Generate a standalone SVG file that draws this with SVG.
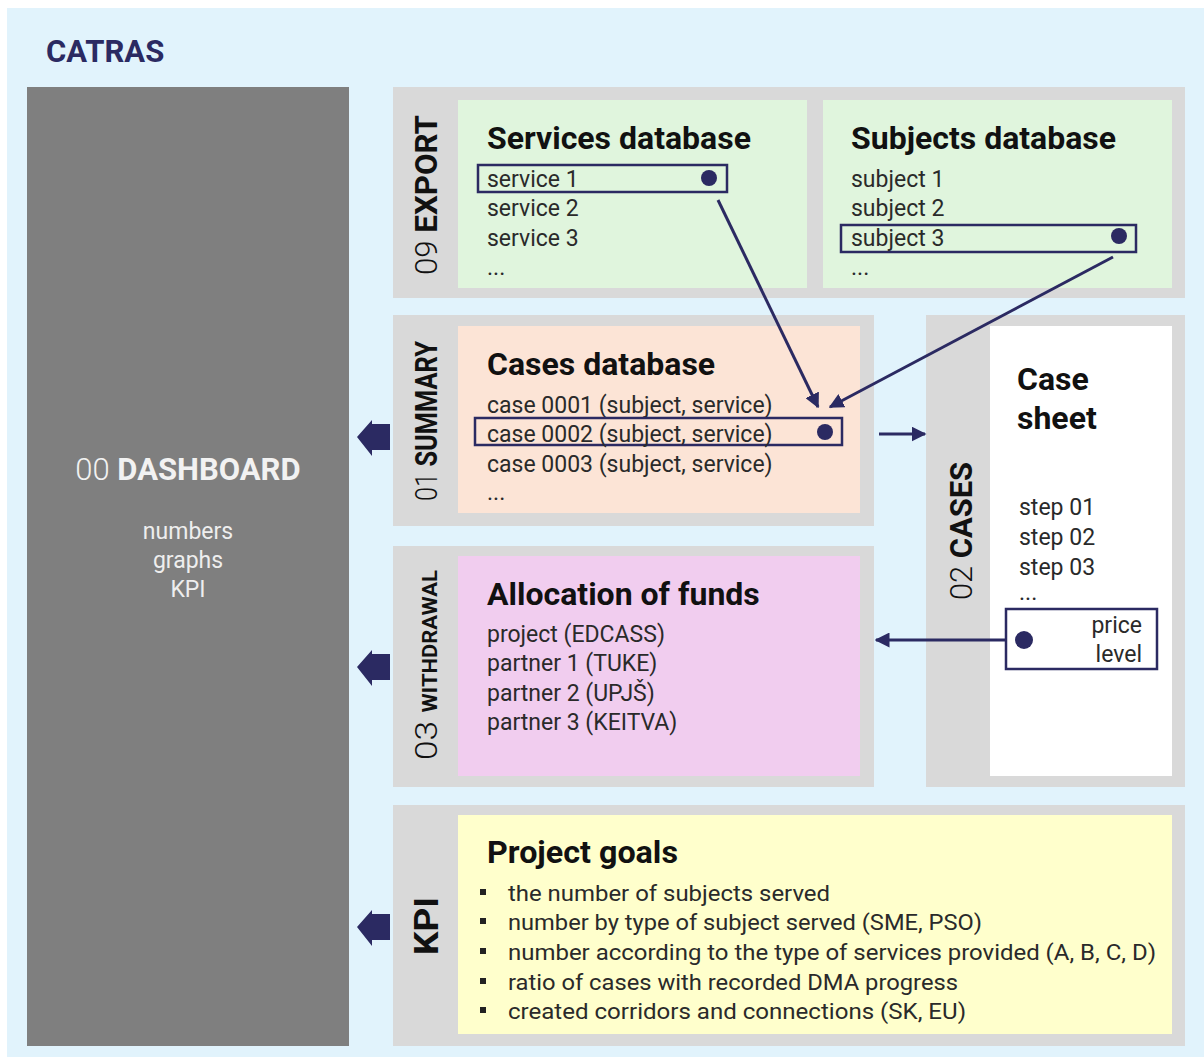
<svg xmlns="http://www.w3.org/2000/svg" width="1204" height="1057" viewBox="0 0 1204 1057">
<defs>
<style>
text{font-family:Roboto,"Liberation Sans",sans-serif;}
.panel{fill:#d9d9d9;}
.t{font-size:32px;font-weight:700;fill:#111;}
.b{font-size:23px;fill:#2a2a2a;}
.g{font-size:22px;fill:#2a2a2a;}
.v{font-size:32px;fill:#111;}
.sel{fill:none;stroke:#2b2a62;stroke-width:2.5;}
.dot{fill:#2b2a62;}
.ln{stroke:#2b2a62;stroke-width:3;fill:none;}
.big{fill:#2b2a62;}
</style>
<marker id="ah" viewBox="0 0 10 10" refX="9" refY="5" markerWidth="5" markerHeight="5" orient="auto" markerUnits="strokeWidth">
<path d="M0,0 L10,5 L0,10 Z" fill="#2b2a62"/>
</marker>
</defs>
<rect x="0" y="0" width="1204" height="1057" fill="#ffffff"/>
<rect x="7" y="8" width="1197" height="1049" fill="#e1f3fc"/>
<text x="46" y="62" style="font-size:31px;font-weight:700;fill:#2b2a62">CATRAS</text>

<g id="dashboard">
<rect x="27" y="87" width="322" height="959" fill="#7f7f7f"/>
<text x="188" y="480" text-anchor="middle" style="font-size:31px;fill:#f2f2f2"><tspan style="font-weight:300">00 </tspan><tspan style="font-weight:700">DASHBOARD</tspan></text>
<text x="188" y="539" text-anchor="middle" style="font-size:23px;fill:#eeeeee">numbers</text>
<text x="188" y="568" text-anchor="middle" style="font-size:23px;fill:#eeeeee">graphs</text>
<text x="188" y="597" text-anchor="middle" style="font-size:23px;fill:#eeeeee">KPI</text>
</g>

<g id="export">
<rect class="panel" x="393" y="87" width="792" height="211"/>
<text class="v" transform="translate(437,195) rotate(-90)" text-anchor="middle" textLength="160" lengthAdjust="spacingAndGlyphs"><tspan style="font-weight:300">09 </tspan><tspan style="font-weight:700">EXPORT</tspan></text>
</g>

<g id="services-db">
<rect x="458" y="100" width="349" height="188" fill="#e0f5dd"/>
<text class="t" x="487" y="149">Services database</text>
<rect class="sel" x="478" y="165" width="249" height="27"/>
<circle class="dot" cx="709" cy="178" r="8"/>
<text class="b" x="487" y="187">service 1</text>
<text class="b" x="487" y="216">service 2</text>
<text class="b" x="487" y="246">service 3</text>
<text class="b" x="487" y="275">...</text>
</g>

<g id="subjects-db">
<rect x="823" y="100" width="349" height="188" fill="#e0f5dd"/>
<text class="t" x="851" y="149">Subjects database</text>
<text class="b" x="851" y="187">subject 1</text>
<text class="b" x="851" y="216">subject 2</text>
<rect class="sel" x="841" y="225" width="295" height="27"/>
<circle class="dot" cx="1119" cy="236" r="8"/>
<text class="b" x="851" y="246">subject 3</text>
<text class="b" x="851" y="275">...</text>
</g>

<g id="summary">
<rect class="panel" x="393" y="315" width="481" height="211"/>
<text class="v" transform="translate(437,421) rotate(-90)" text-anchor="middle" textLength="160" lengthAdjust="spacingAndGlyphs"><tspan style="font-weight:300">01 </tspan><tspan style="font-weight:700">SUMMARY</tspan></text>
</g>

<g id="cases-db">
<rect x="458" y="326" width="402" height="187" fill="#fce4d6"/>
<text class="t" x="487" y="375">Cases database</text>
<text class="b" x="487" y="413">case 0001 (subject, service)</text>
<rect class="sel" x="475" y="418" width="367" height="27"/>
<circle class="dot" cx="825" cy="432" r="8"/>
<text class="b" x="487" y="442">case 0002 (subject, service)</text>
<text class="b" x="487" y="472">case 0003 (subject, service)</text>
<text class="b" x="487" y="500">...</text>
</g>

<g id="cases">
<rect class="panel" x="926" y="315" width="259" height="472"/>
<text class="v" transform="translate(972,531) rotate(-90)" text-anchor="middle" textLength="138" lengthAdjust="spacingAndGlyphs"><tspan style="font-weight:300">02 </tspan><tspan style="font-weight:700">CASES</tspan></text>
</g>

<g id="case-sheet">
<rect x="990" y="326" width="182" height="450" fill="#ffffff"/>
<text class="t" x="1017" y="390">Case</text>
<text class="t" x="1017" y="429">sheet</text>
<text class="b" x="1019" y="515">step 01</text>
<text class="b" x="1019" y="545">step 02</text>
<text class="b" x="1019" y="575">step 03</text>
<text class="b" x="1019" y="600">...</text>
<rect class="sel" x="1006" y="609" width="151" height="60"/>
<circle class="dot" cx="1024" cy="640" r="9"/>
<text class="b" x="1142" y="633" text-anchor="end">price</text>
<text class="b" x="1142" y="662" text-anchor="end">level</text>
</g>

<g id="withdrawal">
<rect class="panel" x="393" y="546" width="481" height="241"/>
<text transform="translate(437,665) rotate(-90)" text-anchor="middle" style="fill:#111" textLength="190" lengthAdjust="spacingAndGlyphs"><tspan style="font-weight:300;font-size:32px">03 </tspan><tspan style="font-weight:700;font-size:20px">WITHDRAWAL</tspan></text>
</g>

<g id="allocation">
<rect x="458" y="556" width="402" height="220" fill="#f1cdef"/>
<text class="t" x="487" y="605">Allocation of funds</text>
<text class="b" x="487" y="642">project (EDCASS)</text>
<text class="b" x="487" y="671">partner 1 (TUKE)</text>
<text class="b" x="487" y="701">partner 2 (UPJŠ)</text>
<text class="b" x="487" y="730">partner 3 (KEITVA)</text>
</g>

<g id="kpi">
<rect class="panel" x="393" y="805" width="792" height="241"/>
<text class="v" transform="translate(438,926) rotate(-90)" text-anchor="middle" style="font-weight:700;font-size:33px" textLength="58" lengthAdjust="spacingAndGlyphs">KPI</text>
</g>

<g id="project-goals">
<rect x="458" y="815" width="714" height="219" fill="#ffffcc"/>
<text class="t" x="487" y="863" textLength="191" lengthAdjust="spacingAndGlyphs">Project goals</text>
<g fill="#222"><rect x="480" y="889" width="6" height="6"/><rect x="480" y="918" width="6" height="6"/><rect x="480" y="948" width="6" height="6"/><rect x="480" y="978" width="6" height="6"/><rect x="480" y="1007" width="6" height="6"/></g>
<text class="g" x="508" y="901" textLength="322" lengthAdjust="spacingAndGlyphs">the number of subjects served</text>
<text class="g" x="508" y="930" textLength="474" lengthAdjust="spacingAndGlyphs">number by type of subject served (SME, PSO)</text>
<text class="g" x="508" y="960" textLength="648" lengthAdjust="spacingAndGlyphs">number according to the type of services provided (A, B, C, D)</text>
<text class="g" x="508" y="990" textLength="450" lengthAdjust="spacingAndGlyphs">ratio of cases with recorded DMA progress</text>
<text class="g" x="508" y="1019" textLength="458" lengthAdjust="spacingAndGlyphs">created corridors and connections (SK, EU)</text>
</g>

<g id="connectors">
<line class="ln" x1="718" y1="200" x2="818" y2="407" marker-end="url(#ah)"/>
<line class="ln" x1="1113" y1="257" x2="830" y2="407" marker-end="url(#ah)"/>
<line class="ln" x1="879" y1="434" x2="925" y2="434" marker-end="url(#ah)"/>
<line class="ln" x1="1006" y1="640" x2="876" y2="640" marker-end="url(#ah)"/>
<path class="big" d="M357,437 L372,420 L372,424 L390,424 L390,450 L372,450 L372,456 Z"/>
<path class="big" d="M357,667 L372,650 L372,654 L390,654 L390,680 L372,680 L372,686 Z"/>
<path class="big" d="M357,927 L372,910 L372,914 L390,914 L390,940 L372,940 L372,946 Z"/>
</g>
</svg>
